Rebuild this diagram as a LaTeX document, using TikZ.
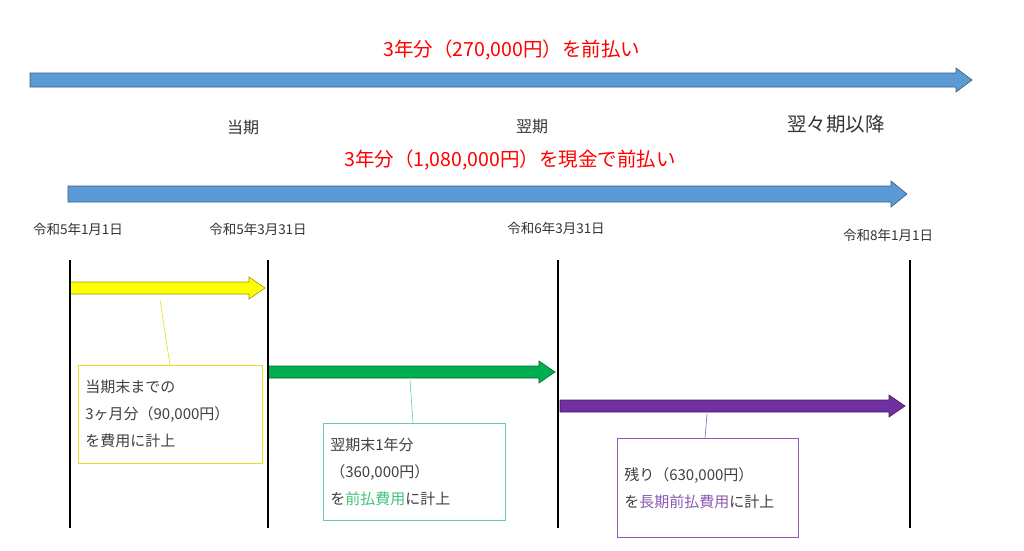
\documentclass[tikz,border=0pt]{standalone}
\usepackage{fontspec}
\setmainfont{Noto Sans CJK JP}
\begin{document}
\begin{tikzpicture}[x=1pt,y=-1pt,
  lbl/.style={font=\fontsize{13.5}{15}\selectfont,text=black!80},
  red/.style={font=\fontsize{19.5}{22}\selectfont,text=red},
  per/.style={font=\fontsize{16}{18}\selectfont,text=black!80},
  box/.style={draw,line width=0.6pt,fill=white,align=left,anchor=north west,inner xsep=7pt,inner ysep=8pt,font=\fontsize{15}{27}\selectfont,text=black!75},
  vline/.style={line width=1.3pt,black}]
\useasboundingbox (0,0) rectangle (1024,550);
\newcommand\fatarrow[6]{% x1,x2,y,half body,half head,colour
  \fill[#6,draw=#6!60!black,line width=0.6pt] (#1,#3-#4) -- (#2-16,#3-#4) -- (#2-16,#3-#5) -- (#2,#3) -- (#2-16,#3+#5) -- (#2-16,#3+#4) -- (#1,#3+#4) -- cycle;}
\definecolor{ablue}{RGB}{91,155,213}
\definecolor{ayel}{RGB}{255,255,0}
\definecolor{agreen}{RGB}{0,176,80}
\definecolor{apurp}{RGB}{112,48,160}
\fatarrow{30}{972}{80}{7}{12}{ablue}
\fatarrow{68}{907}{194}{8}{13}{ablue}
\fatarrow{70}{265}{288}{6}{11}{ayel}
\fatarrow{268}{555}{372}{6}{11}{agreen}
\fatarrow{560}{905}{406}{6}{11}{apurp}
\node[red] (t1) at (512,50) {3年分（270,000円）を前払い};
\node[red] (t2) at (510,160) {3年分（1,080,000円）を現金で前払い};
\node[per] (p1) at (243,127) {当期};
\node[per] (p2) at (532,127) {翌期};
\node[per,font=\fontsize{19.5}{22}\selectfont] (p3) at (836,124) {翌々期以降};
\node[lbl] (d1) at (78,229) {令和5年1月1日};
\node[lbl] (d2) at (258,229) {令和5年3月31日};
\node[lbl] (d3) at (556,228) {令和6年3月31日};
\node[lbl] (d4) at (888,235) {令和8年1月1日};
\foreach \x/\n in {70/a,268/b,558/c,910/d} \draw[vline] (\x,260) coordinate (\n1) -- (\x,528) coordinate (\n2);
\coordinate (cy) at (160,300);
\coordinate (cg) at (410,380);
\coordinate (cp) at (707,414);
\node[box,draw=yellow!90!black,minimum width=184pt,minimum height=98pt,text width=170pt] (by) at (78,365) {当期末までの\\3ヶ月分（90,000円）\\を費用に計上};
\node[box,draw=agreen!60,minimum width=182pt,minimum height=97pt,text width=168pt] (bg) at (323,423) {翌期末1年分\\（360,000円）\\を\textcolor{agreen!75}{前払費用}に計上};
\node[box,draw=apurp!80,minimum width=181pt,minimum height=99pt,text width=167pt] (bp) at (617,438) {残り（630,000円）\\を\textcolor{apurp!80}{長期前払費用}に計上};
\draw[yellow!90!black,line width=0.6pt] (cy) -- (170,365);
\draw[agreen!60,line width=0.6pt] (cg) -- (413,423);
\draw[apurp!80,line width=0.6pt] (cp) -- (705,438);
\end{tikzpicture}
\end{document}
